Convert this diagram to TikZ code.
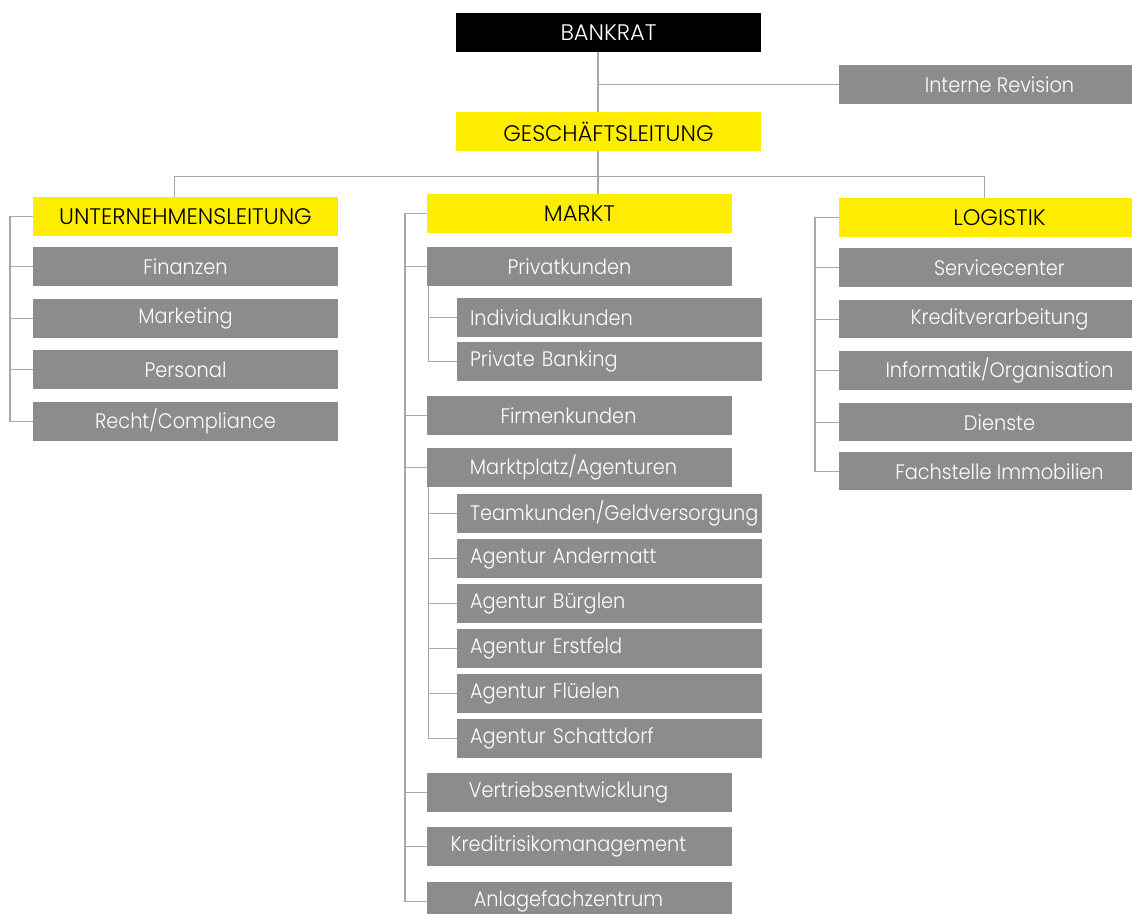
\documentclass[tikz,border=0pt]{standalone}
\usepackage{fontspec}
\IfFontExistsTF{Poppins Light}
  {\setmainfont{Poppins Light}[FakeStretch=0.92]}
  {\setmainfont{Poppins}[FakeStretch=0.92]}
\definecolor{boxgray}{HTML}{8C8C8C}
\definecolor{boxyellow}{HTML}{FFED00}
\definecolor{linegray}{HTML}{A8A8A8}
\begin{document}
\begin{tikzpicture}[x=1pt,y=-1pt,
  base/.style={rectangle, inner sep=0pt, minimum height=38.4pt, font=\fontsize{21}{24}\selectfont},
  gbox/.style={base, fill=boxgray, text=white},
  ybox/.style={base, fill=boxyellow, text=black, font=\fontsize{22.5}{26}\selectfont\addfontfeature{FakeStretch=1.0}},
  bbox/.style={base, fill=black, text=white, font=\fontsize{22.5}{26}\selectfont\addfontfeature{FakeStretch=1.0}},
  subbox/.style={gbox, minimum width=305pt, text width=279pt, inner xsep=13pt, align=left},
  conn/.style={draw=linegray, line width=1.3pt}]
\clip (0,0) rectangle (1132,913);
\fill[white] (0,0) rectangle (1132,913);

% top
\node[bbox, minimum width=305pt] (bankrat) at (608.5,32.5) {BANKRAT};
\node[gbox, minimum width=321pt] (revision) at (999.5,84.5) {Interne Revision};
\node[ybox, minimum width=305pt] (gl) at (608.5,131.5) {GESCHÄFTSLEITUNG};

% left column
\node[ybox, minimum width=305pt] (ul) at (185.5,216.5) {UNTERNEHMENSLEITUNG};
\node[gbox, minimum width=305pt] (fin) at (185.5,266.5) {Finanzen};
\node[gbox, minimum width=305pt] (mkt) at (185.5,318.3) {Marketing};
\node[gbox, minimum width=305pt] (pers) at (185.5,369.5) {Personal};
\node[gbox, minimum width=305pt] (recht) at (185.5,421.5) {Recht/Compliance};

% middle column
\node[ybox, minimum width=305pt] (markt) at (579.5,213.3) {MARKT};
\node[gbox, minimum width=305pt] (priv) at (579.5,266.3) {Privatkunden\hspace*{20pt}};
\node[subbox] (indiv) at (609.5,317.3) {Individualkunden};
\node[subbox] (pb) at (609.5,361.5) {Private Banking};
\node[gbox, minimum width=305pt] (firm) at (579.5,415.3) {Firmenkunden\hspace*{22pt}};
\node[gbox, minimum width=305pt] (mplatz) at (579.5,467.3) {Marktplatz/Agenturen\hspace*{12pt}};
\node[subbox] (team) at (609.5,513.3) {Teamkunden/Geldversorgung};
\node[subbox] (anderm) at (609.5,558.5) {Agentur Andermatt};
\node[subbox] (buerg) at (609.5,603.5) {Agentur Bürglen};
\node[subbox] (erst) at (609.5,648.5) {Agentur Erstfeld};
\node[subbox] (flue) at (609.5,693.5) {Agentur Flüelen};
\node[subbox] (schatt) at (609.5,738.3) {Agentur Schattdorf};
\node[gbox, minimum width=305pt] (vert) at (579.5,792.5) {Vertriebsentwicklung\hspace*{22pt}};
\node[gbox, minimum width=305pt] (kredrisk) at (579.5,846.5) {Kreditrisikomanagement\hspace*{22pt}};
\node[gbox, minimum width=305pt] (anlage) at (579.5,901.5) {Anlagefachzentrum\hspace*{22pt}};

% right column
\node[ybox, minimum width=321pt] (logistik) at (999.5,217.5) {LOGISTIK};
\node[gbox, minimum width=321pt] (svc) at (999.5,267.5) {Servicecenter};
\node[gbox, minimum width=321pt] (kredv) at (999.5,319.2) {Kreditverarbeitung};
\node[gbox, minimum width=321pt] (info) at (999.5,370.5) {Informatik/Organisation};
\node[gbox, minimum width=321pt] (dienste) at (999.5,422.2) {Dienste};
\node[gbox, minimum width=321pt] (fach) at (999.5,471.2) {Fachstelle Immobilien};

% connector coordinates
\coordinate (topx) at (598,0);
\coordinate (busL) at (174.5,176.7);
\coordinate (busR) at (984.5,176.7);
\coordinate (ulx) at (10,0);
\coordinate (mx) at (405,0);
\coordinate (sx) at (428.5,0);
\coordinate (rx) at (815,0);

% top connectors
\draw[conn] (topx |- bankrat.south) -- (topx |- gl.north);
\draw[conn] (topx |- revision.west) -- (revision.west);
\draw[conn] (topx |- gl.south) -- (topx |- markt.north);
\draw[conn] (busL |- ul.north) -- (busL) -- (busR) -- (busR |- logistik.north);

% left bracket
\draw[conn] (ul.west) -- (ul.west -| ulx) -- (recht.west -| ulx) -- (recht.west);
\foreach \n in {fin,mkt,pers} \draw[conn] (\n.west) -- (\n.west -| ulx);

% middle bracket
\draw[conn] (markt.west) -- (markt.west -| mx) -- (anlage.west -| mx) -- (anlage.west);
\foreach \n in {priv,firm,mplatz,vert,kredrisk} \draw[conn] (\n.west) -- (\n.west -| mx);

% sub brackets
\draw[conn] (sx |- priv.south) -- (sx |- pb.west) -- (pb.west);
\draw[conn] (indiv.west) -- (indiv.west -| sx);
\draw[conn] (sx |- mplatz.south) -- (sx |- schatt.west) -- (schatt.west);
\foreach \n in {team,anderm,buerg,erst,flue} \draw[conn] (\n.west) -- (\n.west -| sx);

% right bracket
\draw[conn] (logistik.west) -- (logistik.west -| rx) -- (fach.west -| rx) -- (fach.west);
\foreach \n in {svc,kredv,info,dienste} \draw[conn] (\n.west) -- (\n.west -| rx);
\end{tikzpicture}
\end{document}
